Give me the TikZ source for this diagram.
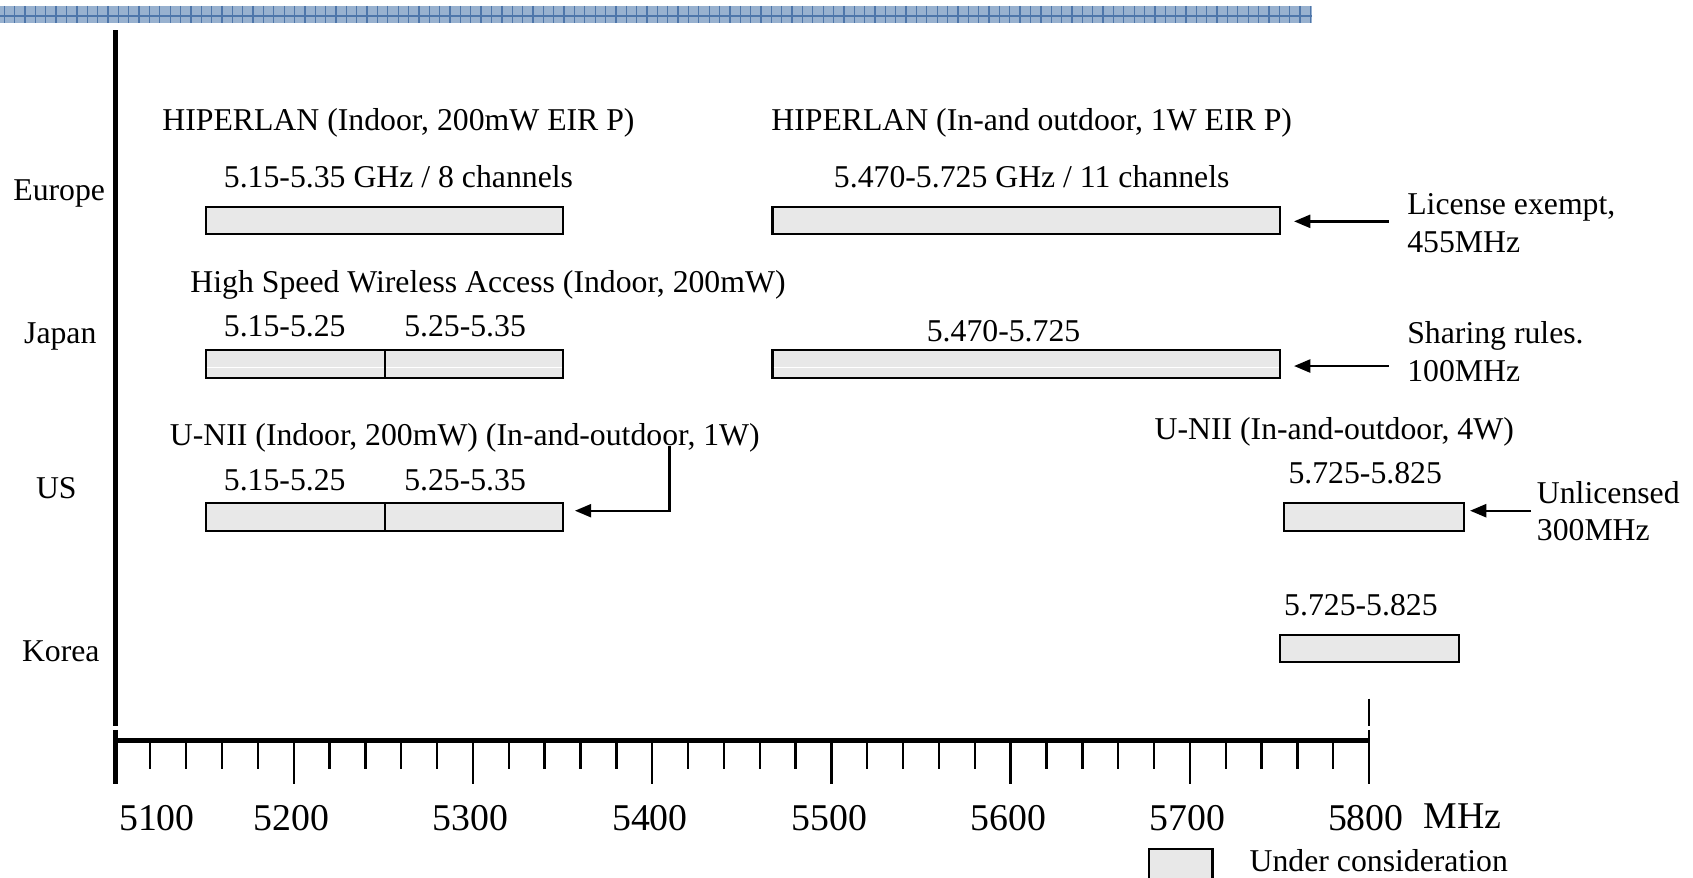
\documentclass[tikz,border=0pt]{standalone}
\usepackage{fontspec}
\setmainfont{Liberation Serif}
\usetikzlibrary{arrows.meta}
\definecolor{bandfill}{RGB}{152,177,207}
\definecolor{bandline}{RGB}{78,118,170}
\definecolor{boxfill}{RGB}{232,232,232}
\tikzset{
  lbl/.style={anchor=base west, inner sep=0pt, font=\fontsize{14.7}{17}\selectfont},
  axlbl/.style={anchor=base, inner sep=0pt, font=\fontsize{17.5}{20}\selectfont},
  band/.style={draw=black, line width=1pt, fill=boxfill, inner sep=0pt,
               anchor=north west, minimum height=12.5pt},
  pointer/.style={line width=1.1pt, -{Triangle[length=7.5pt,width=6pt]}},
  axisline/.style={line width=2.2pt},
  tickmark/.style={line width=1.1pt},
  seam/.style={white, line width=0.5pt},
}
\begin{document}
\begin{tikzpicture}[x=0.5pt,y=-0.5pt]
\useasboundingbox (0,0) rectangle (1568,813);

% header strip
\fill[bandfill] (0,5.5) rectangle (1215,21);
\draw[bandline, line width=0.7pt] (0,14.8) -- (1215,14.8);
\foreach \gx in {4,13.6,...,1215} \draw[bandline, line width=0.6pt] (\gx,5.5) -- (\gx,21);

% frequency axis
\draw[axisline] (107,28) -- (107,672);
\draw[axisline] (107,676) -- (107,726);
\draw[axisline] (105,686) -- (1268,686);
\draw[tickmark] (1268,647) -- (1268,672);
\draw[tickmark] (1268,676) -- (1268,726);
\foreach \i in {1,...,34} {
  \pgfmathtruncatemacro{\rem}{mod(\i,5)}
  \ifnum\rem=0\relax
    \draw[tickmark] ({106+\i*33.2},688) -- ({106+\i*33.2},726);
  \else
    \draw[tickmark] ({106+\i*33.2},688) -- ({106+\i*33.2},712);
  \fi
}
\node[axlbl, anchor=base west] (f5100) at (110,769) {5100};
\node[axlbl] (f5200) at (270,769) {5200};
\node[axlbl] (f5300) at (436,769) {5300};
\node[axlbl] (f5400) at (602,769) {5400};
\node[axlbl] (f5500) at (768,769) {5500};
\node[axlbl] (f5600) at (934,769) {5600};
\node[axlbl] (f5700) at (1100,769) {5700};
\node[axlbl] (f5800) at (1265,769) {5800};
\node[axlbl, anchor=base west] (unit) at (1318,767) {MHz};

% region names
\node[lbl] (europe) at (12,186) {Europe};
\node[lbl] (japan) at (22,318) {Japan};
\node[lbl] (us) at (33,462) {US};
\node[lbl] (korea) at (20,613) {Korea};

% Europe
\node[lbl] (eu1t) at (150,121) {HIPERLAN (Indoor, 200mW EIR P)};
\node[lbl] (eu1f) at (207,174) {5.15-5.35 GHz / 8 channels};
\node[band, minimum width=165.5pt] (eu1) at (189.5,191) {};
\node[lbl] (eu2t) at (714,121) {HIPERLAN (In-and outdoor, 1W EIR P)};
\node[lbl] (eu2f) at (772,174) {5.470-5.725 GHz / 11 channels};
\node[band, minimum width=235pt] (eu2) at (714.5,191) {};
\node[lbl] (eun1) at (1303,199) {License exempt,};
\node[lbl] (eun2) at (1303,234) {455MHz};
\coordinate (eufrom) at (1286,205);
\draw[pointer, shorten >=6pt] (eufrom) -- (eufrom -| eu2.east);

% Japan
\node[lbl] (jpt) at (176,271) {High Speed Wireless Access (Indoor, 200mW)};
\node[lbl] (jp1f) at (207,312) {5.15-5.25};
\node[lbl] (jp2f) at (374,312) {5.25-5.35};
\node[band, minimum width=83pt, minimum height=13pt] (jp1) at (189.5,323) {};
\node[band, minimum width=82.5pt, minimum height=13pt] (jp2) at (355.5,323) {};
\node[lbl] (jp3f) at (858,316) {5.470-5.725};
\node[band, minimum width=235pt, minimum height=13pt] (jp3) at (714.5,323) {};
\foreach \b in {jp1,jp2,jp3}
  \draw[seam] ([xshift=1pt,yshift=-1.5pt]\b.west) -- ([xshift=-1pt,yshift=-1.5pt]\b.east);
\node[lbl] (jpn1) at (1303,318) {Sharing rules.};
\node[lbl] (jpn2) at (1303,353) {100MHz};
\coordinate (jpfrom) at (1286,339);
\draw[pointer, shorten >=6pt] (jpfrom) -- (jpfrom -| jp3.east);

% US
\node[lbl] (ust) at (157,413) {U-NII (Indoor, 200mW) (In-and-outdoor, 1W)};
\node[lbl] (us1f) at (207,454) {5.15-5.25};
\node[lbl] (us2f) at (374,454) {5.25-5.35};
\node[band, minimum width=83pt, minimum height=13pt] (us1) at (189.5,465) {};
\node[band, minimum width=82.5pt, minimum height=13pt] (us2) at (355.5,465) {};
\coordinate (usfrom) at (620,413);
\coordinate (uscorner) at (620,473);
\draw[pointer, shorten >=5pt] (usfrom) -- (uscorner) -- (uscorner -| us2.east);
\node[lbl] (us3t) at (1069,407) {U-NII (In-and-outdoor, 4W)};
\node[lbl] (us3f) at (1193,448) {5.725-5.825};
\node[band, minimum width=83pt, minimum height=13pt] (us3) at (1188.5,465) {};
\node[lbl] (usn1) at (1423,466) {Unlicensed};
\node[lbl] (usn2) at (1423,501) {300MHz};
\coordinate (us3from) at (1418,473);
\draw[pointer, shorten >=2.5pt] (us3from) -- (us3from -| us3.east);

% Korea
\node[lbl] (krf) at (1189,570) {5.725-5.825};
\node[band, minimum width=83pt] (kr) at (1184.5,587) {};

% legend
\node[band, minimum width=29.5pt, minimum height=16pt] (legbox) at (1063,785) {};
\node[lbl] (legtext) at (1157,807) {Under consideration};
\end{tikzpicture}
\end{document}
